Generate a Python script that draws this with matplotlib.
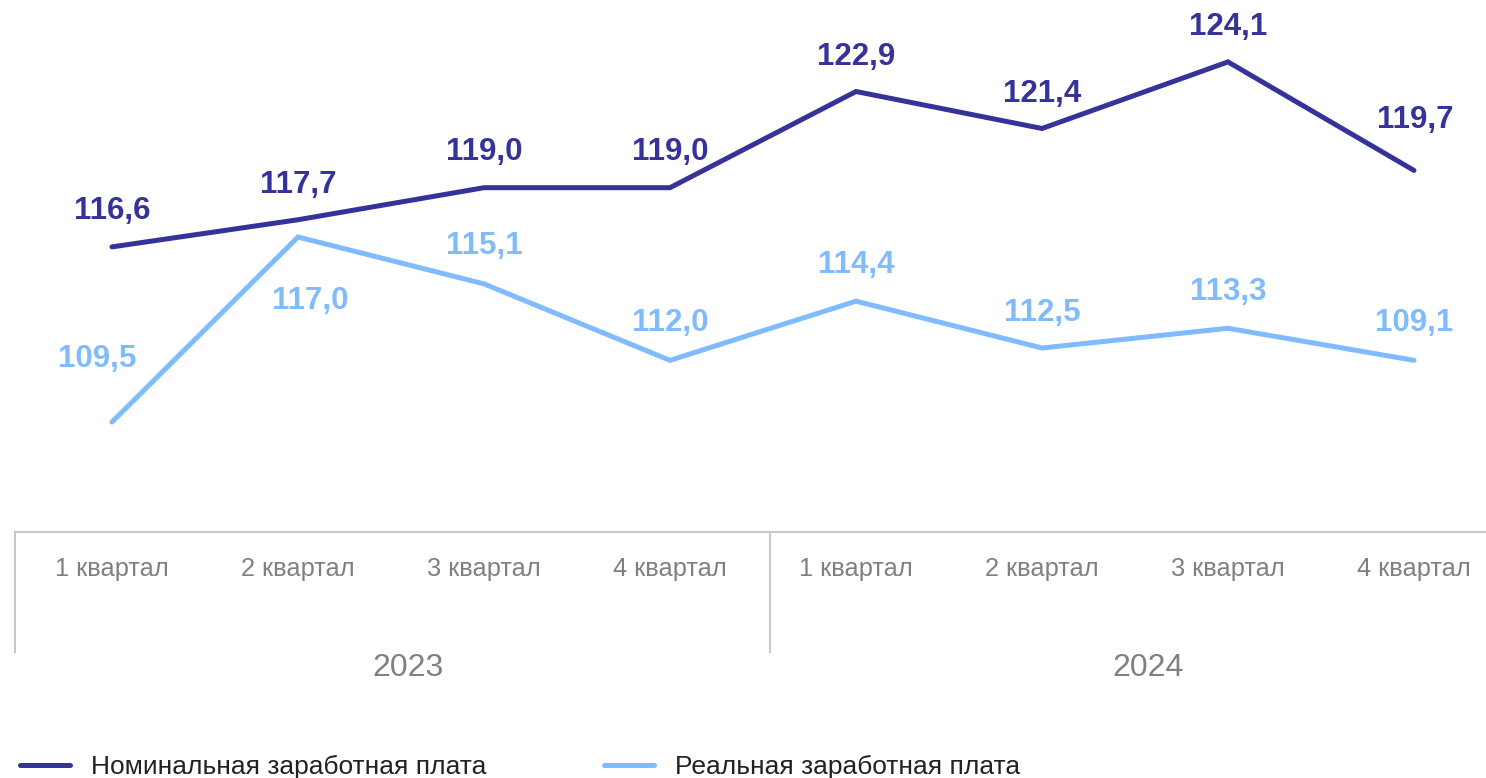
import matplotlib
matplotlib.use("Agg")
import matplotlib.pyplot as plt

plt.rcParams['font.family'] = ['Liberation Sans', 'DejaVu Sans']

quarters = ["1 квартал", "2 квартал", "3 квартал", "4 квартал",
            "1 квартал", "2 квартал", "3 квартал", "4 квартал"]
years = ["2023", "2024"]

nominal = [116.6, 117.7, 119.0, 119.0, 122.9, 121.4, 124.1, 119.7]
# the last point of the real series is drawn at ~112 in the source chart although its label says 109,1
real = [109.5, 117.0, 115.1, 112.0, 114.4, 112.5, 113.3, 112.0]
real_labels = ["109,5", "117,0", "115,1", "112,0", "114,4", "112,5", "113,3", "109,1"]

series_names = ["Номинальная заработная плата", "Реальная заработная плата"]

c_nom = "#35339a"
c_real = "#7fbbfd"
c_grey = "#808080"
c_axis = "#c9c9c9"

# label offsets in points (dx, dy) from each point
nom_off = [(0, 26), (0, 25), (0, 26), (0, 26), (0, 25), (0, 25), (0, 25), (1, 36)]
real_off = [(-11, 45), (9, -46), (0, 27), (0, 27), (0, 26), (0, 25), (0, 26), (0, 27)]

fig = plt.figure(figsize=(14.86, 7.78), dpi=100)
ax = fig.add_axes([0, 246 / 778, 1, 532 / 778])
ax.set_xlim(-112 / 186, 1374 / 186)
ax.set_ylim(105.04, 126.61)
ax.axis("off")

x = list(range(len(quarters)))
line_nom, = ax.plot(x, nominal, color=c_nom, lw=3.6, solid_capstyle="round",
                    solid_joinstyle="miter", label=series_names[0])
line_real, = ax.plot(x, real, color=c_real, lw=3.6, solid_capstyle="round",
                     solid_joinstyle="miter", label=series_names[1])

for i, v in enumerate(nominal):
    ax.annotate(f"{v:.1f}".replace(".", ","), (x[i], v), xytext=nom_off[i],
                textcoords="offset points", ha="center", va="center",
                fontsize=22.5, fontweight="bold", color=c_nom)
for i, v in enumerate(real):
    ax.annotate(real_labels[i], (x[i], v), xytext=real_off[i],
                textcoords="offset points", ha="center", va="center",
                fontsize=22.5, fontweight="bold", color=c_real)

# category axis
tr = ax.get_xaxis_transform()
ax.plot([-0.5215, 7.4], [0, 0], transform=tr, color=c_axis, lw=1.5, clip_on=False)
for sx in [-0.5215, 3.5376]:
    ax.plot([sx, sx], [-0.004, -0.2256], transform=tr, color=c_axis, lw=1.5, clip_on=False)
for i, q in enumerate(quarters):
    ax.text(x[i], -0.0695, q, transform=tr, ha="center", va="center",
            fontsize=18.3, color=c_grey)
for xp, yr in zip([1.59, 5.57], years):
    ax.text(xp, -0.256, yr, transform=tr, ha="center", va="center",
            fontsize=23, color=c_grey)

# legend, one entry per block
for handle, x0 in [(line_nom, 20), (line_real, 604)]:
    fig.legend(handles=[handle], loc="center left",
               bbox_to_anchor=(x0 / 1486, 11 / 778), frameon=False,
               borderpad=0, borderaxespad=0, handlelength=1.9,
               handletextpad=0.8, fontsize=19, labelcolor="#222222")

fig.savefig("out.png", dpi=100)
